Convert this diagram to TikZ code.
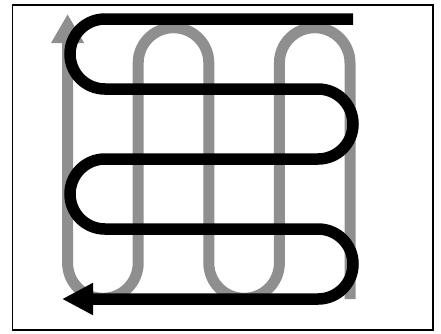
\documentclass[tikz,border=0pt]{standalone}
\usetikzlibrary{arrows.meta}
\definecolor{stip}{gray}{0.56}
\tikzset{
  frameline/.style={draw=black,line width=1.5pt},
  grayroute/.style={draw=stip,line width=11pt,-{Triangle[length=29pt,width=31pt]}},
  blackroute/.style={draw=black,line width=11.5pt,-{Triangle[length=31pt,width=30pt]}}
}
\begin{document}
\begin{tikzpicture}[x=1pt,y=-1pt]
\useasboundingbox (0,0) rectangle (441,333);
\draw[frameline] (12.5,4.8) rectangle (433,330);
% gray vertical serpentine
\coordinate (gs) at (350,299);
\coordinate (ge) at (67.6,14);
\draw[grayroute] (gs) -- (350,63) arc[start angle=0,end angle=-180,radius=35.3]
  -- (279.4,263) arc[start angle=0,end angle=180,radius=35.3]
  -- (208.8,63) arc[start angle=0,end angle=-180,radius=35.3]
  -- (138.2,263) arc[start angle=0,end angle=180,radius=35.3]
  -- (ge);
% black horizontal serpentine
\coordinate (bs) at (353,19);
\coordinate (be) at (62,299);
\draw[blackroute] (bs) -- (105,19) arc[start angle=-90,end angle=-270,radius=35]
  -- (318,89) arc[start angle=-90,end angle=90,radius=35]
  -- (105,159) arc[start angle=-90,end angle=-270,radius=35]
  -- (318,229) arc[start angle=-90,end angle=90,radius=35]
  -- (be);
\end{tikzpicture}
\end{document}
